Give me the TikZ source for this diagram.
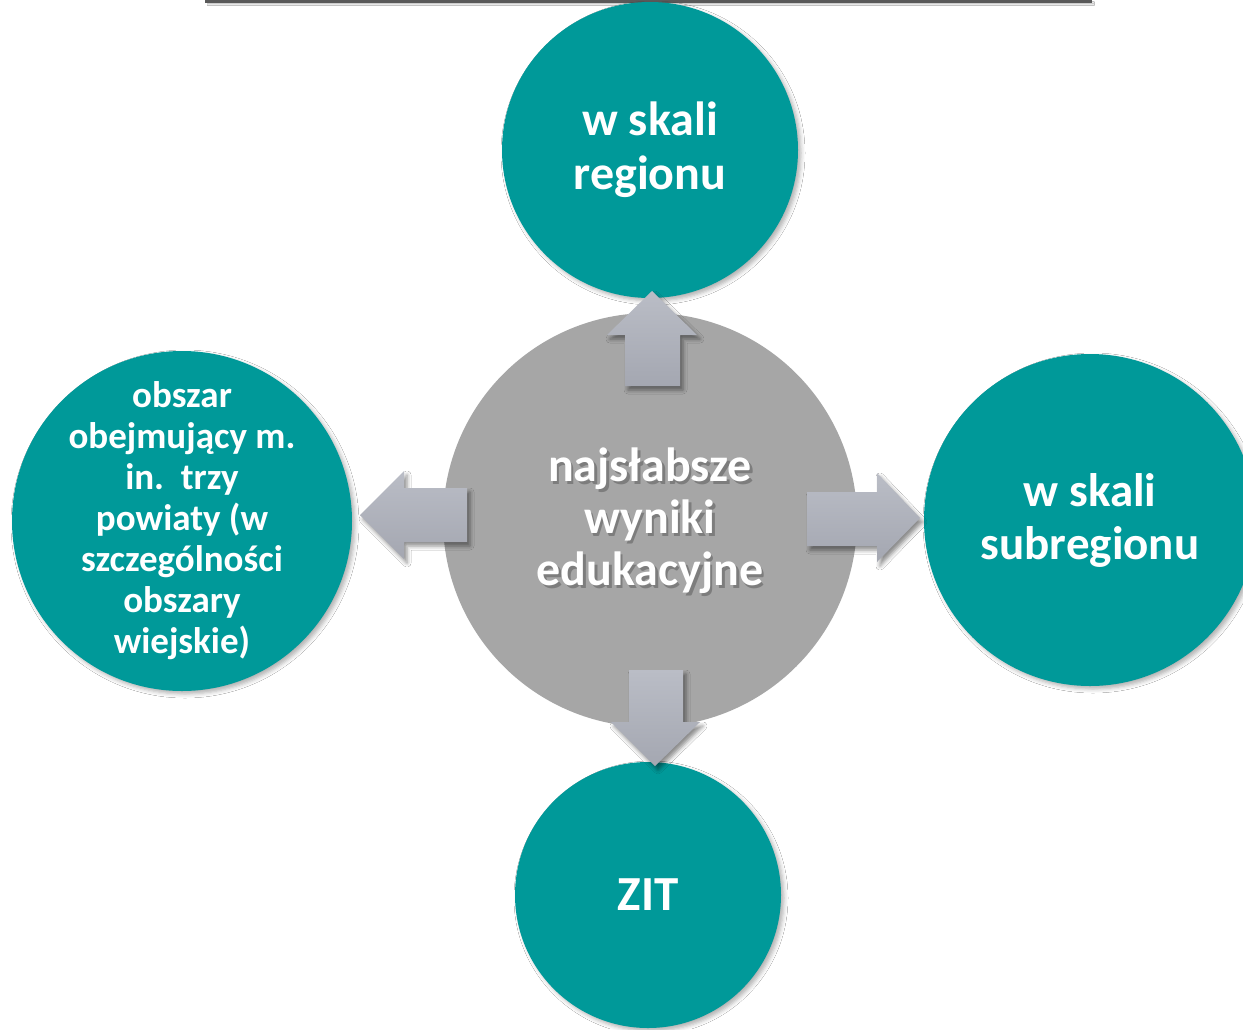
\documentclass[tikz,border=0pt]{standalone}
\usepackage{fontspec}
\setmainfont{Carlito}
\usetikzlibrary{shadows,shadows.blur}
\definecolor{tealc}{RGB}{0,153,153}
\definecolor{grayc}{RGB}{166,166,166}
\definecolor{arrtop}{RGB}{186,189,198}
\definecolor{arrbot}{RGB}{164,167,177}
\tikzset{
  tealcircle/.style={circle, fill=tealc, inner sep=0pt,
    blur shadow={shadow xshift=3pt, shadow yshift=-3pt, shadow blur radius=4pt, shadow opacity=30}},
  circletext/.style={text=white, align=center, inner sep=0pt},
  centercircle/.style={circle, fill=grayc, inner sep=0pt},
  blockarrow/.style={top color=arrtop, bottom color=arrbot, draw=none,
    blur shadow={shadow xshift=3pt, shadow yshift=-4pt, shadow blur radius=4pt, shadow opacity=45}},
  centertext/.style={align=center, font=\bfseries\fontsize{48}{52}\selectfont},
}
\begin{document}
\begin{tikzpicture}[x=1pt,y=-1pt]
\useasboundingbox[fill=white] (0,0) rectangle (1243,1029);
% top rule
\coordinate (ruleL) at (205,1.5);
\coordinate (ruleR) at (1092,1.5);
\draw[line width=3pt, black!65, blur shadow={shadow yshift=-2pt, shadow blur radius=2pt}] (ruleL) -- (ruleR);

% central circle
\node[centercircle, minimum size=414pt] (center) at (650,520) {};

% outer circles
\node[tealcircle, minimum size=296pt] (top) at (650,150) {};
\node[tealcircle, minimum size=332pt] (right) at (1090,520) {};
\node[tealcircle, minimum size=340pt] (left) at (182,521) {};
\node[tealcircle, minimum size=266pt] (bottom) at (648,895) {};

\node[circletext, font=\bfseries\fontsize{48}{54}\selectfont] (toptext) at (top) {w skali\\regionu};
\node[circletext, font=\bfseries\fontsize{47}{53}\selectfont] (righttext) at (right) {w skali\\subregionu};
\node[circletext, font=\bfseries\fontsize{37}{41}\selectfont] (lefttext) at (left) {obszar\\obejmujący m.\\in.\ \ trzy\\powiaty (w\\szczególności\\obszary\\wiejskie)};
\node[circletext, font=\bfseries\fontsize{49}{55}\selectfont] (bottomtext) at (bottom) {ZIT};

% block arrows
\path[blockarrow] (625,386) -- (625,335) -- (607,335) -- (652,291) -- (697,335) -- (680,335) -- (680,386) -- cycle;
\path[blockarrow] (467,488) -- (404,488) -- (404,471) -- (360,515) -- (404,559) -- (404,542) -- (467,542) -- cycle;
\path[blockarrow] (807,492) -- (877,492) -- (877,473) -- (920,518) -- (877,562) -- (877,546) -- (807,546) -- cycle;
\path[blockarrow] (629,670) -- (683,670) -- (683,722) -- (700,722) -- (655,766) -- (611,722) -- (629,722) -- cycle;

% center text with shadow
\node[centertext, text=black!55, opacity=0.8] (ctshadow) at (652.5,523.5) {najsłabsze\\wyniki\\edukacyjne};
\node[centertext, text=white] (ctext) at (650,521) {najsłabsze\\wyniki\\edukacyjne};
\end{tikzpicture}
\end{document}
